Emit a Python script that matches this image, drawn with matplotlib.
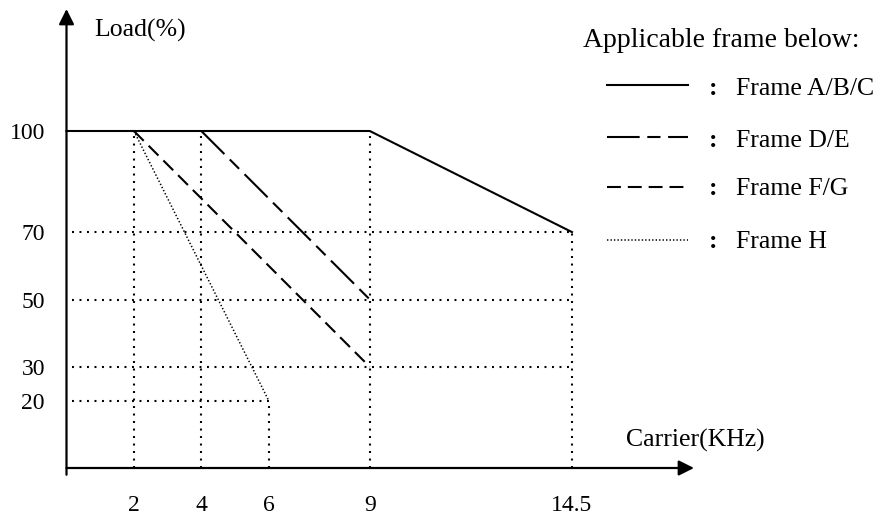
import matplotlib.pyplot as plt
import numpy as np

plt.rcParams['font.family'] = ['Liberation Serif', 'DejaVu Serif']
plt.rcParams['lines.scale_dashes'] = False

# krzywe obciazenia w funkcji czestotliwosci nosnej
abc_x = [0, 9, 14.5]
abc_y = [100, 100, 70]
de_x = [4, 9]
de_y = [100, 50]
fg_x = [2, 9]
fg_y = [100, 30]
h_x = [2, 6]
h_y = [100, 20]

x_ticks = [2, 4, 6, 9, 14.5]
x_labels = ['2', '4', '6', '9', '14.5']
y_ticks = [20, 30, 50, 70, 100]
y_labels = ['20', '30', '50', '70', '100']

# linie pomocnicze (kropkowane)
vert_x = [2, 4, 6, 9, 14.5]
vert_top = [100, 100, 20, 100, 70]
horiz_y = [70, 50, 30, 20]
horiz_end = [14.5, 14.5, 14.5, 6]

frames = ['Frame A/B/C', 'Frame D/E', 'Frame F/G', 'Frame H']

# os x na rysunku nie jest liniowa (14.5 lezy dalej)
xp = [-10, 0, 9, 14.5, 40]
fp = [-10, 0, 9, 15.0, 40.5]


def fwd(x):
    return np.interp(x, xp, fp)


def inv(x):
    return np.interp(x, fp, xp)


W, H = 880, 518
fig = plt.figure(figsize=(8.8, 5.18), dpi=100)
ax = fig.add_axes([0, 0, 1, 1])
ax.set_xscale('function', functions=(fwd, inv))
ax.set_xlim(inv(-66.5 / 33.7), inv((W - 66.5) / 33.7))
ax.set_ylim(-50 / 3.37, 468 / 3.37)

grid = dict(color='black', lw=1.5, linestyle=(0, (1.4, 4.0)))
for x, top in zip(vert_x, vert_top):
    ax.plot([x, x], [0, top], **grid)
for y, end in zip(horiz_y, horiz_end):
    ax.plot([0.15, end], [y, y], **grid)

styles = [
    dict(lw=1.5, linestyle='-'),
    dict(lw=1.5, linestyle=(0, (23.5, 5.5, 9.5, 5.5))),
    dict(lw=1.5, linestyle=(0, (10, 5))),
    dict(lw=1.1, linestyle=(0, (1.0, 1.5))),
]
series = [(abc_x, abc_y), (de_x, de_y), (fg_x, fg_y), (h_x, h_y)]
for (xs, ys), st in zip(series, styles):
    ax.plot(xs, ys, color='black', **st)

# osie ze strzalkami
arrow = dict(arrowstyle='-|>', lw=1.6, color='black', mutation_scale=23,
             shrinkA=0, shrinkB=0)
ax.annotate('', xy=(694 / W, 0), xycoords=('axes fraction', 'data'),
            xytext=(0, 0), textcoords='data', arrowprops=arrow)
ax.annotate('', xy=(0, 1 - 9 / H), xycoords=('data', 'axes fraction'),
            xytext=(0, -2), textcoords='data', arrowprops=arrow)

for s in ax.spines.values():
    s.set_visible(False)
ax.spines['bottom'].set_position(('data', 0))
ax.spines['left'].set_position(('data', 0))
ax.set_xticks(x_ticks, x_labels)
ax.set_yticks(y_ticks, y_labels)
ax.tick_params(axis='x', length=0, pad=19.5, labelsize=17)
ax.tick_params(axis='y', length=0, pad=15.5, labelsize=17)
ax.minorticks_off()


def txt(px, py, s, size=18.5):
    ax.text(px / W, 1 - py / H, s, transform=ax.transAxes, fontsize=size,
            ha='left', va='baseline')


txt(94, 37, 'Load(%)')
txt(626, 447, 'Carrier(KHz)')
txt(583, 47, 'Applicable frame below:', size=20)

rows = [85, 137, 187, 240]
bases = [95, 147, 195, 248]
for name, st, ly, by in zip(frames, styles, rows, bases):
    ax.plot([607 / W, 688 / W], [1 - ly / H] * 2, transform=ax.transAxes,
            color='black', **st)
    ax.text(713 / W, 1 - by / H, ':', transform=ax.transAxes, fontsize=18.5,
            ha='center', va='baseline', fontweight='bold')
    txt(736, by, name)

fig.savefig('out.png', dpi=100)
